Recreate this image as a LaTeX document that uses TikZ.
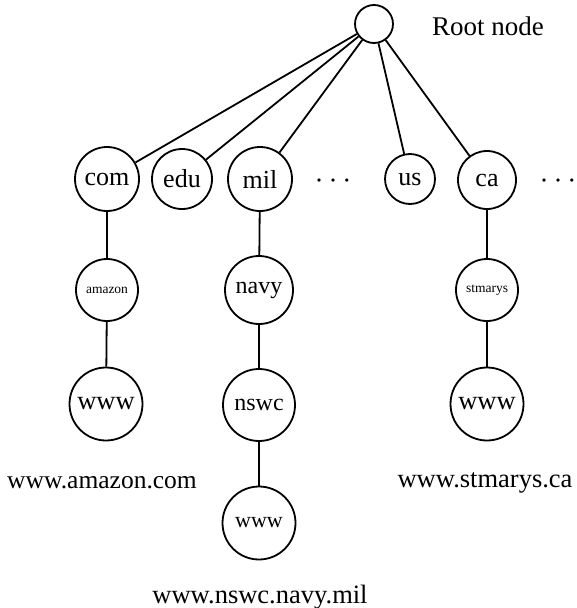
\documentclass[tikz,border=0pt]{standalone}
\usepackage{fontspec}
\setmainfont{Liberation Serif}
\begin{document}
\begin{tikzpicture}[x=1pt,y=-1pt,
  every node/.style={font=\fontsize{26}{30}\selectfont},
  circ/.style={circle,draw,line width=1.8pt,inner sep=0pt},
  small/.style={font=\fontsize{13.5}{16}\selectfont},
  lbl/.style={font=\fontsize{26.5}{30}\selectfont},
  dotsty/.style={inner sep=0pt,font=\fontsize{27}{30}\selectfont},
  edge/.style={line width=1.8pt}]
\useasboundingbox (0,0) rectangle (576,608);
% root
\node[circ,minimum size=38pt] (root) at (374,24) {};
\node[font=\fontsize{27}{30}\selectfont] (rootlbl) at (488,26) {Root node};
% level 2
\node[circ,minimum size=64pt] (com) at (107,179) {com};
\node[circ,minimum size=60pt] (edu) at (182,179) {edu};
\node[circ,minimum size=64pt] (mil) at (260,179) {mil};
\node[dotsty] (dotsA) at (333,184) {·\hspace{5pt}·\hspace{5pt}·};
\node[circ,minimum size=50pt] (us) at (410,179) {us};
\node[circ,minimum size=58pt] (ca) at (487,180) {ca};
\node[dotsty] (dotsB) at (558,184) {·\hspace{5pt}·\hspace{5pt}·};
% level 3
\node[circ,minimum size=62pt,small] (amazon) at (107,290) {amazon};
\node[circ,minimum size=68pt,font=\fontsize{24}{28}\selectfont] (navy) at (259,290) {navy};
\node[circ,minimum size=62pt,small] (stmarys) at (487,290) {stmarys};
% level 4
\node[circ,minimum size=73pt,font=\fontsize{26.5}{30}\selectfont] (wwwA) at (106,404) {www};
\node[circ,minimum size=72pt,font=\fontsize{24}{28}\selectfont] (nswc) at (259,405) {nswc};
\node[circ,minimum size=73pt,font=\fontsize{26.5}{30}\selectfont] (wwwC) at (487,404) {www};
% level 5
\node[circ,minimum size=73pt,font=\fontsize{22}{26}\selectfont] (wwwB) at (259,523) {www};
% labels
\node[lbl,font=\fontsize{25.5}{30}\selectfont] (lblA) at (102,483) {www.amazon.com};
\node[lbl] (lblC) at (485,483) {www.stmarys.ca};
\node[lbl] (lblB) at (260,597) {www.nswc.navy.mil};
% edges
\draw[edge] (root) -- (com);
\draw[edge] (root) -- (edu);
\draw[edge] (root) -- (mil);
\draw[edge] (root) -- (us);
\draw[edge] (root) -- (ca);
\draw[edge] (com) -- (amazon);
\draw[edge] (amazon) -- (wwwA);
\draw[edge] (mil) -- (navy);
\draw[edge] (navy) -- (nswc);
\draw[edge] (nswc) -- (wwwB);
\draw[edge] (ca) -- (stmarys);
\draw[edge] (stmarys) -- (wwwC);
\end{tikzpicture}
\end{document}
